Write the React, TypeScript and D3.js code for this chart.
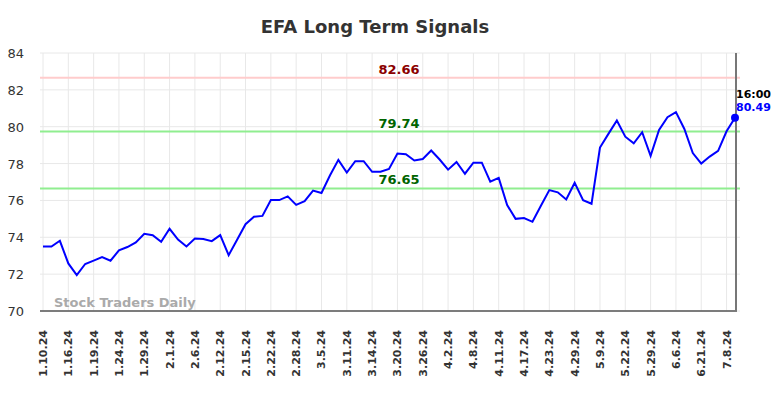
import React, { useEffect, useRef } from 'react';
import * as d3 from 'd3';

// daily closes, one entry per session (labels every 3rd session)
const prices: number[] = [
  73.5, 73.5, 73.81, 72.58, 71.95, 72.55, 72.73, 72.92, 72.73, 73.29,
  73.47, 73.72, 74.19, 74.11, 73.75, 74.46, 73.88, 73.5, 73.93, 73.91,
  73.79, 74.12, 73.03, 73.87, 74.71, 75.11, 75.16, 76.02, 76.02, 76.22,
  75.76, 75.96, 76.53, 76.4, 77.35, 78.2, 77.51, 78.13, 78.13, 77.55,
  77.56, 77.71, 78.55, 78.51, 78.17, 78.25, 78.71, 78.22, 77.67, 78.09,
  77.45, 78.05, 78.05, 77.02, 77.22, 75.75, 75.0, 75.04, 74.84, 75.71,
  76.56, 76.44, 76.05, 76.96, 76.01, 75.82, 78.87, 79.61, 80.34, 79.46,
  79.1, 79.7, 78.42, 79.83, 80.52, 80.79, 79.88, 78.57, 78.0, 78.38,
  78.69, 79.75, 80.49,
];

const tickLabels: string[] = [
  '1.10.24', '1.16.24', '1.19.24', '1.24.24', '1.29.24', '2.1.24', '2.6.24',
  '2.12.24', '2.15.24', '2.22.24', '2.28.24', '3.5.24', '3.11.24', '3.14.24',
  '3.20.24', '3.26.24', '4.2.24', '4.8.24', '4.11.24', '4.17.24', '4.23.24',
  '4.29.24', '5.9.24', '5.22.24', '5.29.24', '6.6.24', '6.21.24', '7.8.24',
];

const yTicks: number[] = [70, 72, 74, 76, 78, 80, 82, 84];

const signalValues: number[] = [82.66, 79.74, 76.65];
const signalLineColors: string[] = ['#ffcccc', '#90ee90', '#90ee90'];
const signalTextColors: string[] = ['#8b0000', '#006400', '#006400'];

const lastTime = '16:00';

const App = () => {
  const svgRef = useRef<SVGSVGElement>(null);

  useEffect(() => {
    const svg = d3.select(svgRef.current);
    svg.selectAll('*').remove();

    const font = '"DejaVu Sans", sans-serif';
    const left = 40;
    const right = 740;

    const x = d3.scalePoint<number>()
      .domain(prices.map((_, i) => i))
      .range([43, 735]);
    const y = d3.scaleLinear().domain([70, 84]).range([311, 53]);

    // title
    svg.append('text')
      .attr('x', 375)
      .attr('y', 33)
      .attr('text-anchor', 'middle')
      .attr('font-family', font)
      .attr('font-size', 18)
      .attr('font-weight', 'bold')
      .attr('fill', '#333')
      .text('EFA Long Term Signals');

    // grid
    svg.append('g')
      .selectAll('line')
      .data(yTicks)
      .enter()
      .append('line')
      .attr('x1', left)
      .attr('x2', right)
      .attr('y1', d => y(d))
      .attr('y2', d => y(d))
      .attr('stroke', '#e8e8e8')
      .attr('stroke-width', 1);

    svg.append('g')
      .selectAll('line')
      .data(tickLabels)
      .enter()
      .append('line')
      .attr('x1', (_, i) => x(i * 3)!)
      .attr('x2', (_, i) => x(i * 3)!)
      .attr('y1', y(84))
      .attr('y2', y(70))
      .attr('stroke', '#e8e8e8')
      .attr('stroke-width', 1);

    // y tick labels
    svg.append('g')
      .selectAll('text')
      .data(yTicks)
      .enter()
      .append('text')
      .attr('x', 24)
      .attr('y', d => y(d) + 5)
      .attr('text-anchor', 'end')
      .attr('font-family', font)
      .attr('font-size', 13)
      .attr('fill', '#333')
      .text(d => d);

    // x tick labels, rotated
    svg.append('g')
      .selectAll('text')
      .data(tickLabels)
      .enter()
      .append('text')
      .attr('transform', (_, i) => `translate(${x(i * 3)! + 4},330) rotate(-90)`)
      .attr('text-anchor', 'end')
      .attr('font-family', font)
      .attr('font-size', 11)
      .attr('font-weight', 'bold')
      .attr('fill', '#333')
      .text(d => d);

    // watermark
    svg.append('text')
      .attr('x', 54)
      .attr('y', 307)
      .attr('font-family', font)
      .attr('font-size', 13)
      .attr('font-weight', 'bold')
      .attr('fill', '#aaa')
      .text('Stock Traders Daily');

    // signal levels
    signalValues.forEach((v, i) => {
      svg.append('line')
        .attr('x1', left)
        .attr('x2', right)
        .attr('y1', y(v))
        .attr('y2', y(v))
        .attr('stroke', signalLineColors[i])
        .attr('stroke-width', 2);
      svg.append('text')
        .attr('x', 399)
        .attr('y', y(v) - 4)
        .attr('text-anchor', 'middle')
        .attr('font-family', font)
        .attr('font-size', 13)
        .attr('font-weight', 'bold')
        .attr('fill', signalTextColors[i])
        .text(v.toFixed(2));
    });

    // axis base + session marker
    svg.append('line')
      .attr('x1', left)
      .attr('x2', 737)
      .attr('y1', y(70))
      .attr('y2', y(70))
      .attr('stroke', '#555')
      .attr('stroke-width', 1.5);
    svg.append('line')
      .attr('x1', 736)
      .attr('x2', 736)
      .attr('y1', y(84))
      .attr('y2', y(70))
      .attr('stroke', '#777')
      .attr('stroke-width', 2);

    // price line
    const line = d3.line<number>()
      .x((_, i) => x(i)!)
      .y(d => y(d));

    svg.append('path')
      .attr('d', line(prices))
      .attr('fill', 'none')
      .attr('stroke', '#0000ff')
      .attr('stroke-width', 2);

    const lastIdx = prices.length - 1;
    const last = prices[lastIdx];
    svg.append('circle')
      .attr('cx', x(lastIdx)!)
      .attr('cy', y(last))
      .attr('r', 4)
      .attr('fill', '#0000ff');

    svg.append('text')
      .attr('x', 736)
      .attr('y', 98)
      .attr('font-family', font)
      .attr('font-size', 11)
      .attr('font-weight', 'bold')
      .attr('fill', '#000')
      .text(lastTime);
    svg.append('text')
      .attr('x', 736)
      .attr('y', 111)
      .attr('font-family', font)
      .attr('font-size', 11)
      .attr('font-weight', 'bold')
      .attr('fill', '#0000ff')
      .text(last.toFixed(2));
  }, []);

  return (
    <svg
      ref={svgRef}
      width={784}
      height={398}
      style={{ position: 'absolute', left: 0, top: 0, background: '#fff' }}
    ></svg>
  );
};

export default App;
